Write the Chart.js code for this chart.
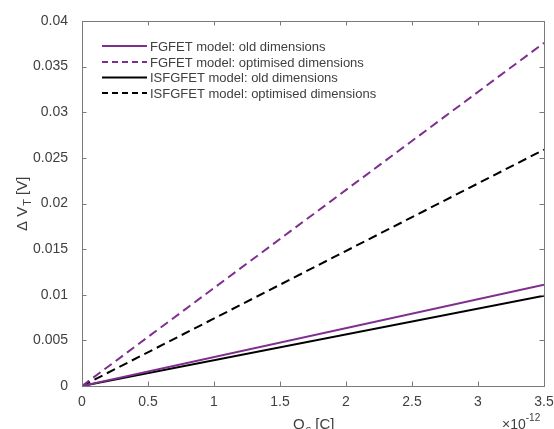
<!DOCTYPE html>
<html lang="en">
<head>
  <meta charset="UTF-8" />
  <title>Threshold voltage shift vs charge</title>
  <script src="https://cdn.jsdelivr.net/npm/chart.js"></script>
  <style>
    html, body { margin: 0; padding: 0; background: #fff; }
    #wrap { width: 554px; height: 429px; }
  </style>
</head>
<body>
  <div id="wrap"><canvas id="vtChart" width="554" height="429"></canvas></div>
  <script>
    // charge on the sensing gate, in units of 1e-12 C
    const qs = [0, 3.5];
    const fgfetOld = [0, 0.0111];
    const fgfetOpt = [0, 0.0376];
    const isfgfetOld = [0, 0.0099];
    const isfgfetOpt = [0, 0.0259];

    const xTicks = [0, 0.5, 1, 1.5, 2, 2.5, 3, 3.5];
    const yTicks = [0, 0.005, 0.01, 0.015, 0.02, 0.025, 0.03, 0.035, 0.04];

    const seriesNames = [
      "FGFET model: old dimensions",
      "FGFET model: optimised dimensions",
      "ISFGFET model: old dimensions",
      "ISFGFET model: optimised dimensions"
    ];

    const PURPLE = "#7e2f8e";
    const AXIS = "#7a7a7a";
    const TEXT = "#404040";
    const FONT = "Liberation Sans, Arial, Helvetica, sans-serif";
    const DASH = [9, 5];

    const toPoints = ys => qs.map((x, i) => ({ x, y: ys[i] }));

    const series = [
      { data: fgfetOld, color: PURPLE, dash: [] },
      { data: fgfetOpt, color: PURPLE, dash: DASH },
      { data: isfgfetOld, color: "#000", dash: [] },
      { data: isfgfetOpt, color: "#000", dash: DASH }
    ];

    // box, inward ticks, axis labels with subscripts, exponent and legend
    const matlabAxes = {
      id: "matlabAxes",
      afterDraw(chart) {
        const { ctx, chartArea: a, scales } = chart;
        const tl = 4.5;
        ctx.save();
        ctx.strokeStyle = AXIS;
        ctx.lineWidth = 1;
        ctx.strokeRect(a.left + 0.5, a.top + 0.5, a.right - a.left, a.bottom - a.top);
        ctx.beginPath();
        xTicks.forEach(v => {
          const px = Math.round(scales.x.getPixelForValue(v)) + 0.5;
          ctx.moveTo(px, a.bottom); ctx.lineTo(px, a.bottom - tl);
          ctx.moveTo(px, a.top); ctx.lineTo(px, a.top + tl);
        });
        yTicks.forEach(v => {
          const py = Math.round(scales.y.getPixelForValue(v)) + 0.5;
          ctx.moveTo(a.left, py); ctx.lineTo(a.left + tl, py);
          ctx.moveTo(a.right, py); ctx.lineTo(a.right - tl, py);
        });
        ctx.stroke();

        ctx.fillStyle = TEXT;
        ctx.textBaseline = "alphabetic";

        // x title: Q_s [C]
        ctx.font = "15px " + FONT;
        ctx.textAlign = "left";
        let x0 = 293, y0 = 429;
        ctx.fillText("Q", x0, y0);
        let w = ctx.measureText("Q").width;
        ctx.font = "11px " + FONT;
        ctx.fillText("s", x0 + w + 1, y0 + 4);
        let ws = ctx.measureText("s").width;
        ctx.font = "15px " + FONT;
        ctx.fillText(" [C]", x0 + w + ws + 1, y0);

        // exponent of the x axis
        ctx.font = "14px " + FONT;
        ctx.fillText("\u00d710", 502, 429);
        w = ctx.measureText("\u00d710").width;
        ctx.font = "10px " + FONT;
        ctx.fillText("-12", 502 + w, 421);

        // y title: delta V_T [V]
        ctx.save();
        ctx.translate(27, 231);
        ctx.rotate(-Math.PI / 2);
        ctx.font = "15px " + FONT;
        ctx.fillText("\u0394 V", 0, 0);
        w = ctx.measureText("\u0394 V").width;
        ctx.font = "11px " + FONT;
        ctx.fillText("T", w + 1, 4);
        ws = ctx.measureText("T").width;
        ctx.font = "15px " + FONT;
        ctx.fillText(" [V]", w + ws + 1, 0);
        ctx.restore();

        // legend
        ctx.font = "13px " + FONT;
        ctx.textBaseline = "middle";
        const rowY = [46, 62, 77.5, 93];
        series.forEach((s, i) => {
          ctx.strokeStyle = s.color;
          ctx.lineWidth = 2;
          ctx.setLineDash(s.dash.length ? [6, 4] : []);
          ctx.beginPath();
          ctx.moveTo(102, rowY[i]);
          ctx.lineTo(147, rowY[i]);
          ctx.stroke();
          ctx.setLineDash([]);
          ctx.fillStyle = TEXT;
          ctx.fillText(seriesNames[i], 150, rowY[i] + 1);
        });
        ctx.restore();
      }
    };

    new Chart(document.getElementById("vtChart").getContext("2d"), {
      type: "scatter",
      data: {
        datasets: series.map((s, i) => ({
          label: seriesNames[i],
          data: toPoints(s.data),
          showLine: true,
          borderColor: s.color,
          backgroundColor: s.color,
          borderWidth: 2,
          borderDash: s.dash,
          pointRadius: 0,
          tension: 0
        }))
      },
      options: {
        responsive: false,
        animation: false,
        events: [],
        layout: { padding: { left: 0, right: 10, top: 21, bottom: 0 } },
        plugins: { legend: { display: false }, tooltip: { enabled: false } },
        scales: {
          x: {
            type: "linear",
            min: 0,
            max: 3.5,
            afterFit: s => { s.height = 43; s.paddingLeft = 0; s.paddingRight = 0; },
            afterBuildTicks: s => { s.ticks = xTicks.map(v => ({ value: v })); },
            grid: { display: false },
            border: { display: false },
            ticks: {
              padding: 0,
              color: TEXT,
              font: { family: FONT, size: 14 },
              callback: v => String(v)
            }
          },
          y: {
            type: "linear",
            min: 0,
            max: 0.04,
            afterFit: s => { s.width = 82; s.paddingTop = 0; s.paddingBottom = 0; },
            afterBuildTicks: s => { s.ticks = yTicks.map(v => ({ value: v })); },
            grid: { display: false },
            border: { display: false },
            ticks: {
              padding: 6,
              color: TEXT,
              font: { family: FONT, size: 14 },
              callback: v => String(Number(v.toFixed(3)))
            }
          }
        }
      },
      plugins: [matlabAxes]
    });
  </script>
</body>
</html>
